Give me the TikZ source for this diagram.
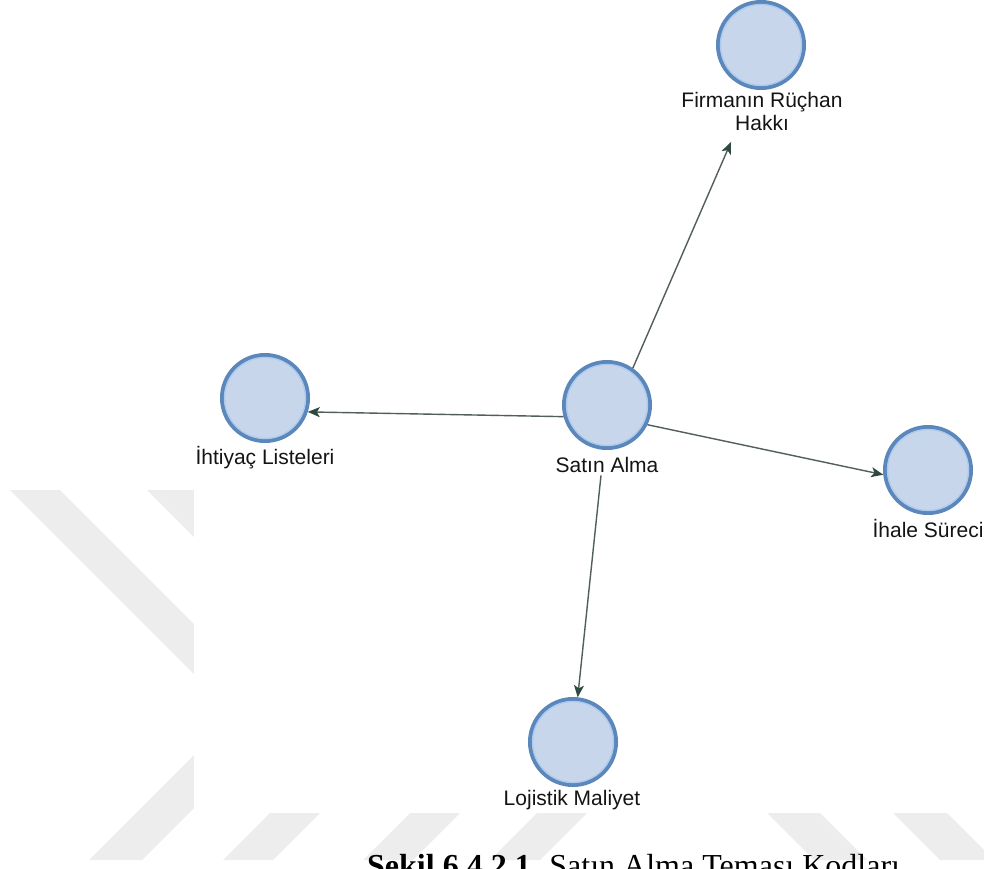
\documentclass[tikz,border=0pt]{standalone}
\usepackage{fontspec}
\setmainfont{Liberation Sans}
\newfontfamily\capfont{Liberation Serif}
\usetikzlibrary{arrows.meta}
\definecolor{ringc}{RGB}{92,135,186}
\definecolor{innerc}{RGB}{172,202,240}
\definecolor{fillc}{RGB}{199,214,234}
\definecolor{edgec}{RGB}{82,94,90}
\definecolor{tipc}{RGB}{45,74,64}
\definecolor{markc}{RGB}{237,237,237}
\definecolor{labelc}{RGB}{20,20,20}
\begin{document}
\begin{tikzpicture}[x=1pt,y=-1pt,
  topic/.style={circle,draw=ringc,line width=4pt,fill=fillc,minimum size=86pt,inner sep=0pt},
  innerring/.style={draw=innerc,line width=1.3pt},
  lbl/.style={anchor=base,font=\fontsize{21}{23}\selectfont,text=labelc,inner sep=0pt,align=center},
  edge/.style={draw=edgec,line width=1.4pt,-{Stealth[length=12pt,width=10pt,inset=3pt,color=tipc]}},
  band/.style={fill=markc,draw=none}]
\useasboundingbox (0,0) rectangle (984,869);
\clip (0,0) rectangle (984,869);

% page watermark bands
\fill[band] (10,490) -- (60,490) -- (360,790) -- (310,790) -- cycle;
\fill[band] (147,490) -- (197,490) -- (297,590) -- (247,590) -- cycle;
\fill[band] (89,860) -- (142,860) -- (292,710) -- (239,710) -- cycle;
\fill[band] (223,860) -- (273,860) -- (373,760) -- (323,760) -- cycle;
\fill[band] (363,860) -- (413,860) -- (513,760) -- (463,760) -- cycle;
\fill[band] (490,860) -- (540,860) -- (640,760) -- (590,760) -- cycle;
\fill[band] (717,763) -- (770,763) -- (867,860) -- (814,860) -- cycle;
\fill[band] (843,763) -- (897,763) -- (994,860) -- (940,860) -- cycle;

% white canvas of the network view
\fill[white] (194,0) rectangle (984,813);

% topic nodes
\node[topic] (fr) at (761,45) {};
\node[topic] (il) at (265,398) {};
\node[topic] (sa) at (607,405) {};
\node[topic] (is) at (928,470) {};
\node[topic] (lm) at (573,742) {};
\foreach \n in {fr,il,sa,is,lm}
  \draw[innerring] (\n.center) circle[radius=40.5];

% labels (the two-line label is placed by its last baseline)
\node[lbl] (frl) at (762,131) {Firmanın Rüçhan\\Hakkı};
\node[lbl] (ill) at (265,464) {İhtiyaç Listeleri};
\node[lbl] (sal) at (607,472) {Satın Alma};
\node[lbl] (isl) at (928,537) {İhale Süreci};
\node[lbl] (lml) at (572,805) {Lojistik Maliyet};

% connectors
\coordinate (frtip) at (731,142);
\draw[edge] (sa.55) -- (frtip);
\draw[edge] (sa.195) -- (il.-18);
\draw[edge] (sa.-26) -- (is.186);
\draw[edge] ([xshift=-6pt,yshift=-3pt]sal.south) -- (lm.84);

% caption
\node[anchor=base west,inner sep=0pt,font=\capfont\fontsize{32}{36}\selectfont] (cap) at (367,876)
  {\textbf{Şekil 6.4.2.1.} Satın Alma Teması Kodları};
\end{tikzpicture}
\end{document}
